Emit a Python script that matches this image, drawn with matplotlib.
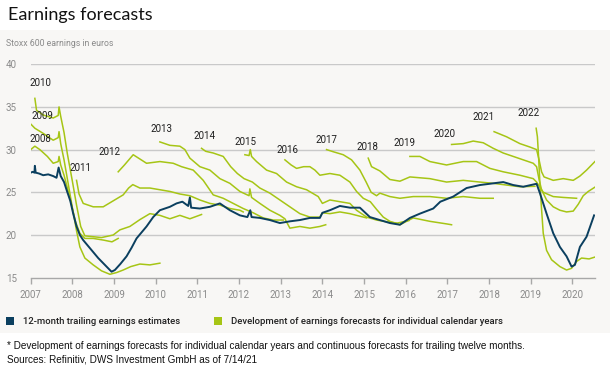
import matplotlib
matplotlib.use("Agg")
import matplotlib.pyplot as plt
from matplotlib.patches import Rectangle

# ---------------- data ----------------
x_ticks = [2007, 2008, 2009, 2010, 2011, 2012, 2013, 2014, 2015, 2016, 2017, 2018, 2019, 2020]
y_ticks = [15, 20, 25, 30, 35, 40]

trailing_t = [2007.00, 2007.05, 2007.09, 2007.10, 2007.12, 2007.20, 2007.30, 2007.42, 2007.54, 2007.62,
              2007.67, 2007.72, 2007.80, 2007.86, 2007.95, 2008.02, 2008.10, 2008.18, 2008.26, 2008.38,
              2008.50, 2008.62, 2008.74, 2008.86, 2008.94, 2009.02, 2009.15, 2009.30, 2009.42, 2009.54,
              2009.66, 2009.78, 2009.94, 2010.10, 2010.34, 2010.50, 2010.64, 2010.78, 2010.82, 2010.85,
              2011.06, 2011.30, 2011.54, 2011.78, 2012.02, 2012.20, 2012.27, 2012.30, 2012.50, 2012.74,
              2012.98, 2013.22, 2013.46, 2013.70, 2013.94, 2014.00, 2014.18, 2014.42, 2014.66, 2014.90,
              2015.14, 2015.38, 2015.62, 2015.86, 2016.10, 2016.34, 2016.66, 2016.83, 2017.14, 2017.46,
              2017.78, 2018.10, 2018.34, 2018.58, 2018.82, 2019.14, 2019.22, 2019.38, 2019.54, 2019.70,
              2019.86, 2019.98, 2020.06, 2020.18, 2020.34, 2020.52]
trailing_v = [27.3, 27.4, 27.3, 28.1, 27.3, 27.2, 27.0, 27.1, 26.9, 26.7,
              27.9, 26.9, 26.2, 25.3, 24.0, 22.5, 21.0, 20.0, 19.4, 18.7,
              18.0, 17.3, 16.7, 16.1, 15.7, 15.9, 16.6, 17.5, 18.5, 19.6,
              20.3, 21.0, 22.1, 22.9, 23.3, 23.7, 23.9, 23.4, 24.4, 23.2,
              23.1, 23.3, 23.7, 22.9, 22.3, 22.1, 22.9, 22.1, 22.0, 21.75,
              21.4, 21.6, 21.75, 22.0, 22.0, 22.6, 22.9, 23.4, 23.2, 23.2,
              22.1, 21.75, 21.4, 21.2, 22.0, 22.5, 23.1, 23.9, 24.5, 25.5,
              25.85, 26.05, 26.2, 25.85, 25.65, 26.0, 24.9, 22.5, 20.2, 18.6,
              17.5, 16.3, 16.5, 18.6, 19.8, 22.3]

fc2008_t = [2007.00, 2007.10, 2007.22, 2007.40, 2007.54, 2007.66, 2007.68, 2007.72, 2007.80, 2007.88,
            2007.98, 2008.08, 2008.18, 2008.30, 2008.50, 2008.75, 2008.95, 2009.10]
fc2008_v = [30.0, 30.4, 30.0, 29.2, 28.4, 28.6, 29.2, 28.2, 27.0, 25.5,
            23.5, 21.5, 20.2, 19.6, 19.6, 19.4, 19.2, 19.6]

fc2009_t = [2007.00, 2007.10, 2007.30, 2007.54, 2007.66, 2007.68, 2007.72, 2007.80, 2007.90, 2008.00,
            2008.10, 2008.18, 2008.30, 2008.50, 2008.70, 2008.90, 2009.06, 2009.22, 2009.40, 2009.62,
            2009.86, 2010.10]
fc2009_v = [33.0, 32.5, 31.9, 31.1, 31.4, 32.1, 30.7, 28.8, 26.0, 23.2,
            20.5, 18.6, 17.3, 16.5, 15.8, 15.4, 15.6, 15.9, 16.3, 16.6,
            16.5, 16.7]

fc2010_t = [2007.10, 2007.14, 2007.30, 2007.54, 2007.66, 2007.68, 2007.72, 2007.80, 2007.88, 2008.00,
            2008.10, 2008.20, 2008.30, 2008.50, 2008.70, 2008.98, 2009.14, 2009.38, 2009.62, 2009.86,
            2010.10, 2010.34, 2010.58, 2010.82, 2011.10]
fc2010_v = [36.0, 34.6, 34.05, 33.7, 34.0, 35.0, 33.9, 32.0, 29.5, 26.3,
            23.5, 21.0, 19.9, 19.8, 19.7, 20.0, 20.6, 21.0, 21.8, 22.5,
            22.3, 21.9, 22.3, 21.9, 22.4]

fc2011_t = [2008.10, 2008.16, 2008.26, 2008.50, 2008.74, 2008.98, 2009.22, 2009.35, 2009.45, 2009.62,
            2009.86, 2010.10, 2010.34, 2010.58, 2010.82, 2011.06, 2011.30, 2011.54, 2011.78, 2012.02,
            2012.10]
fc2011_v = [26.4, 24.8, 23.7, 23.3, 23.3, 24.0, 24.7, 25.5, 25.9, 25.5,
            25.5, 25.3, 25.1, 24.8, 24.6, 24.1, 23.7, 23.5, 23.1, 22.9,
            22.7]

fc2012_t = [2009.10, 2009.25, 2009.46, 2009.62, 2009.78, 2010.10, 2010.42, 2010.62, 2010.90, 2011.14,
            2011.38, 2011.62, 2011.86, 2012.10, 2012.34, 2012.58, 2012.82, 2013.06]
fc2012_v = [27.4, 28.2, 29.4, 28.9, 28.4, 28.6, 28.4, 28.0, 27.6, 26.4,
            24.7, 24.3, 23.7, 23.1, 22.6, 22.0, 21.75, 21.75]

fc2013_t = [2010.10, 2010.34, 2010.58, 2010.70, 2010.82, 2011.06, 2011.30, 2011.54, 2011.78, 2012.02,
            2012.24, 2012.26, 2012.30, 2012.50, 2012.74, 2012.98, 2013.10, 2013.22, 2013.46, 2013.70,
            2013.94, 2014.08]
fc2013_v = [30.9, 30.5, 30.4, 30.0, 29.0, 28.0, 27.6, 26.6, 26.05, 25.1,
            24.6, 25.4, 24.4, 23.7, 22.9, 22.3, 21.9, 20.8, 21.0, 20.8,
            21.0, 21.2]

fc2014_t = [2011.10, 2011.20, 2011.38, 2011.62, 2011.80, 2011.96, 2012.12, 2012.32, 2012.50, 2012.74,
            2012.98, 2013.22, 2013.46, 2013.70, 2013.94, 2014.00, 2014.18, 2014.42, 2014.66, 2014.82,
            2015.06]
fc2014_v = [30.15, 29.8, 29.6, 29.2, 28.0, 27.2, 26.6, 26.2, 25.5, 24.9,
            24.1, 23.3, 22.5, 22.1, 22.1, 22.6, 22.5, 22.7, 22.5, 22.3,
            22.0]

fc2015_t = [2012.14, 2012.24, 2012.27, 2012.30, 2012.42, 2012.66, 2012.90, 2013.14, 2013.38, 2013.62,
            2013.90, 2014.00, 2014.18, 2014.42, 2014.66, 2014.82, 2015.06, 2015.30, 2015.54, 2015.80,
            2016.08]
fc2015_v = [29.4, 29.3, 30.0, 29.2, 28.6, 27.6, 27.2, 26.2, 25.65, 25.3,
            24.5, 23.7, 24.1, 23.9, 23.7, 22.9, 22.1, 21.75, 21.55, 21.4,
            21.7]

fc2016_t = [2013.10, 2013.25, 2013.38, 2013.55, 2013.70, 2013.82, 2013.94, 2014.18, 2014.42, 2014.66,
            2014.82, 2014.98, 2015.15, 2015.30, 2015.46, 2015.62, 2015.86, 2016.18, 2016.58, 2016.98,
            2017.10]
fc2016_v = [28.8, 28.2, 27.8, 28.0, 28.0, 27.6, 27.0, 27.2, 27.0, 26.2,
            25.1, 24.3, 23.9, 23.0, 22.1, 21.6, 21.2, 22.0, 21.6, 21.3,
            21.2]

fc2017_t = [2014.10, 2014.26, 2014.50, 2014.70, 2014.90, 2015.05, 2015.17, 2015.30, 2015.38, 2015.62,
            2015.86, 2016.18, 2016.58, 2016.98, 2017.38, 2017.78, 2018.10]
fc2017_v = [30.0, 29.75, 29.4, 28.8, 27.6, 26.2, 25.0, 24.6, 24.9, 24.5,
            24.3, 24.5, 24.5, 24.3, 24.5, 24.3, 24.3]

fc2018_t = [2015.10, 2015.18, 2015.38, 2015.62, 2015.86, 2016.10, 2016.34, 2016.58, 2016.98, 2017.38,
            2017.78, 2018.10, 2018.42, 2018.74, 2019.10]
fc2018_v = [29.0, 28.0, 27.5, 26.5, 26.3, 26.8, 26.7, 26.6, 26.2, 26.4,
            26.2, 26.05, 25.85, 25.65, 25.7]

fc2019_t = [2016.10, 2016.34, 2016.58, 2016.98, 2017.38, 2017.70, 2018.02, 2018.34, 2018.74, 2019.06,
            2019.14, 2019.22, 2019.30, 2019.54, 2019.78, 2020.10]
fc2019_v = [29.2, 29.2, 28.6, 28.2, 28.6, 28.6, 27.8, 27.4, 27.0, 26.6,
            26.2, 25.6, 25.0, 24.5, 24.4, 24.3]

fc2020_t = [2017.10, 2017.38, 2017.62, 2017.86, 2018.10, 2018.34, 2018.58, 2018.82, 2019.06, 2019.14,
            2019.20, 2019.26, 2019.38, 2019.54, 2019.70, 2019.86, 2020.02, 2020.14, 2020.26, 2020.38,
            2020.54]
fc2020_v = [30.6, 30.7, 31.0, 30.8, 30.15, 29.6, 29.2, 28.8, 28.4, 28.0,
            26.5, 25.3, 24.1, 23.3, 22.9, 22.7, 22.8, 23.6, 24.6, 25.1,
            25.6]

fc2021_t = [2018.12, 2018.42, 2018.74, 2018.98, 2019.14, 2019.20, 2019.26, 2019.32, 2019.54, 2019.78,
            2020.02, 2020.18, 2020.34, 2020.54]
fc2021_v = [32.1, 31.5, 30.7, 30.3, 30.0, 28.8, 27.4, 26.8, 26.4, 26.6,
            26.4, 26.9, 27.6, 28.6]

fc2022_t = [2019.13, 2019.16, 2019.19, 2019.22, 2019.26, 2019.30, 2019.38, 2019.50, 2019.70, 2019.86,
            2019.98, 2020.10, 2020.22, 2020.40, 2020.53]
fc2022_v = [32.5, 31.5, 29.0, 26.0, 23.0, 20.2, 18.2, 17.1, 16.3, 15.9,
            16.1, 16.9, 17.3, 17.2, 17.4]

forecast_years = ["2008", "2009", "2010", "2011", "2012", "2013", "2014", "2015",
                  "2016", "2017", "2018", "2019", "2020", "2021", "2022"]

title = "Earnings forecasts"
subtitle = "Stoxx 600 earnings in euros"
legend_labels = ["12-month trailing earnings estimates",
                 "Development of earnings forecasts for individual calendar years"]
footnote = ["* Development of earnings forecasts for individual calendar years and continuous forecasts for trailing twelve months.",
            "Sources: Refinitiv, DWS Investment GmbH as of 7/14/21"]

# label anchor positions (layout, data coordinates)
label_pos = [(2007.235, 31.26), (2007.283, 33.99), (2007.230, 37.76), (2008.202, 27.81),
             (2008.886, 29.70), (2010.144, 32.44), (2011.183, 31.65), (2012.143, 30.89),
             (2013.151, 29.99), (2014.094, 31.18), (2015.087, 30.32), (2015.975, 30.80),
             (2016.938, 31.80), (2017.862, 33.76), (2018.961, 34.33)]

# ---------------- styling ----------------
BLUE = "#0b3f5f"
GREEN = "#a6c515"
PANEL = "#f8f7f5"
GRID = "#c9c9c9"
TICKGRAY = "#8a8a8a"

W, H = 610, 367
fig = plt.figure(figsize=(W / 100, H / 100), dpi=100)
fig.patch.set_facecolor("white")

# grey panel (behind the axes)
fig.patches.append(Rectangle((0, 1 - 333 / H), 1.0, 303 / H, transform=fig.transFigure,
                             facecolor=PANEL, edgecolor="none", zorder=-10))

ax = fig.add_axes([30.7 / W, 1 - 277.7 / H, (595 - 30.7) / W, (277.7 - 64.2) / H])
ax.set_zorder(1)
ax.set_facecolor("none")
ax.set_xlim(2007, 2007 + (595 - 30.7) / 41.67)
ax.set_ylim(15, 40)

for sp in ["top", "right", "left"]:
    ax.spines[sp].set_visible(False)
ax.spines["bottom"].set_color("#a8a8a8")
ax.spines["bottom"].set_linewidth(1.0)

for yv in y_ticks[1:]:
    ax.axhline(yv, color=GRID, lw=1.0, zorder=1)

ax.set_xticks(x_ticks)
ax.set_xticklabels([str(v) for v in x_ticks])
ax.set_yticks(y_ticks)
ax.set_yticklabels([str(v) for v in y_ticks])
ax.tick_params(axis="x", length=4, width=1.0, color="#a8a8a8", pad=5,
               labelsize=7, labelcolor=TICKGRAY)
ax.tick_params(axis="y", length=0, pad=10, labelsize=7, labelcolor=TICKGRAY)
for lab in ax.get_xticklabels() + ax.get_yticklabels():
    lab.set_fontfamily("Roboto")

series = [(fc2008_t, fc2008_v), (fc2009_t, fc2009_v), (fc2010_t, fc2010_v), (fc2011_t, fc2011_v),
          (fc2012_t, fc2012_v), (fc2013_t, fc2013_v), (fc2014_t, fc2014_v), (fc2015_t, fc2015_v),
          (fc2016_t, fc2016_v), (fc2017_t, fc2017_v), (fc2018_t, fc2018_v), (fc2019_t, fc2019_v),
          (fc2020_t, fc2020_v), (fc2021_t, fc2021_v), (fc2022_t, fc2022_v)]
for t, v in series:
    ax.plot(t, v, color=GREEN, lw=1.1, zorder=3, solid_joinstyle="round")

ax.plot(trailing_t, trailing_v, color=BLUE, lw=1.4, zorder=4, solid_joinstyle="round")

for name, (lx, ly) in zip(forecast_years, label_pos):
    ax.text(lx, ly, name, ha="center", va="center", fontsize=7, color="#1e1e1e",
            family="Roboto", zorder=5)

# title and subtitle
fig.text(8 / W, 1 - 15 / H, title, ha="left", va="center", fontsize=13,
         family="Lato", color="#111111")
fig.text(6 / W, 1 - 43 / H, subtitle, ha="left", va="center", fontsize=6.3,
         family="Roboto", color=TICKGRAY)

# legend
fig.patches.append(Rectangle((6 / W, 1 - 325 / H), 8 / W, 8 / H, transform=fig.transFigure,
                             facecolor=BLUE, edgecolor="none"))
fig.text(22.7 / W, 1 - 321 / H, legend_labels[0], ha="left", va="center", fontsize=6.8,
         family="Roboto", color="#222222", weight="medium")
fig.patches.append(Rectangle((214 / W, 1 - 325 / H), 8 / W, 8 / H, transform=fig.transFigure,
                             facecolor=GREEN, edgecolor="none"))
fig.text(231 / W, 1 - 321 / H, legend_labels[1], ha="left", va="center", fontsize=6.8,
         family="Roboto", color="#222222", weight="medium")

# footnote
fig.text(7 / W, 1 - 346 / H, footnote[0], ha="left", va="center", fontsize=7.2,
         family="Liberation Sans", color="#111111")
fig.text(7 / W, 1 - 359 / H, footnote[1], ha="left", va="center", fontsize=7.2,
         family="Liberation Sans", color="#111111")

fig.savefig("out.png", dpi=100, facecolor="white")
